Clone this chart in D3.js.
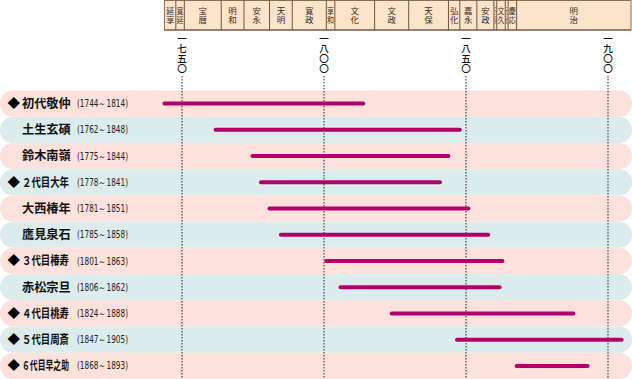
<!DOCTYPE html>
<html><head><meta charset="utf-8">
<script src="https://cdn.jsdelivr.net/npm/d3@7"></script>
<style>
html,body{margin:0;padding:0;background:#fff;}
svg{display:block;}
</style></head>
<body>
<svg id="chart" width="632" height="379"></svg>
<script>
// ---- data ----
const names = ["初代敬仲","土生玄碩","鈴木南嶺","２代目大年","大西椿年","鷹見泉石","３代目椿寿","赤松宗旦","４代目桃寿","５代目周斎","６代目早之助"];
const marked = [true,false,false,true,false,false,true,false,true,true,true];
const births = [1744,1762,1775,1778,1781,1785,1801,1806,1824,1847,1868];
const deaths = [1814,1848,1844,1841,1851,1858,1863,1862,1888,1905,1893];
const eraNames = ["延享","寛延","宝暦","明和","安永","天明","寛政","享和","文化","文政","天保","弘化","嘉永","安政","万延","文久","元治","慶応","明治"];
const eraStarts = [1744,1748,1751,1764,1772,1781,1789,1801,1804,1818,1830,1844,1848,1854,1860,1861,1864,1865,1868];
const eraEndLast = 1912;
const tickYears = [1750,1800,1850,1900];
const tickLabels = ["一七五〇","一八〇〇","一八五〇","一九〇〇"];

// ---- layout ----
const W = 632, H = 379;
const svg = d3.select("#chart");
const x = d3.scaleLinear().domain([1750,1900]).range([181.5,607.5]);
const y = d3.scaleBand().domain(names).range([90.5,379]).padding(0);
const cjk = "'Noto Sans CJK JP','Noto Sans CJK SC',sans-serif";

// row bands
svg.append("g").selectAll("rect").data(names).join("rect")
  .attr("x",0).attr("y",d=>y(d)).attr("width",W).attr("height",y.bandwidth())
  .attr("rx",13).attr("ry",13)
  .attr("fill",(d,i)=> i%2===0 ? "#fde1dd" : "#dcebec");

// header eras
const header = svg.append("g");
const hTop = 0.5, hBot = 30;
const eras = eraNames.map((n,i)=>({name:n, s:eraStarts[i], e: i<eraNames.length-1 ? eraStarts[i+1] : eraEndLast}));
const hx0 = x(eraStarts[0]), hx1 = 631;
header.append("rect").attr("x",hx0).attr("y",hTop).attr("width",hx1-hx0).attr("height",hBot-hTop)
  .attr("fill","#fce4cb").attr("stroke","#8c6d52").attr("stroke-width",1);
eras.forEach((d,i)=>{
  const a = x(d.s), b = Math.min(x(d.e), hx1);
  if(i>0) header.append("line").attr("x1",a).attr("x2",a).attr("y1",hTop).attr("y2",hBot)
      .attr("stroke","#6e5440").attr("stroke-width",1);
  const w = b - a, cx = (a+b)/2;
  const fs = 8.5;
  const sx = Math.max(0.2, Math.min(1, (w-1.5)/fs));
  header.append("g").attr("transform",`translate(${cx},0) scale(${sx},1)`)
    .append("text").attr("x",0).attr("y",6.6).attr("text-anchor","start")
    .attr("writing-mode","vertical-rl").attr("letter-spacing",0.5)
    .attr("font-family",cjk).attr("font-size",fs).attr("fill","#3a2a1e").text(d.name);
});
header.append("line").attr("x1",hx0).attr("x2",hx1).attr("y1",hBot).attr("y2",hBot)
  .attr("stroke","#6e5440").attr("stroke-width",1.2);

// grid axis
const axisG = svg.append("g").attr("transform","translate(0,76)")
  .call(d3.axisTop(x).tickValues(tickYears).tickSize(-(H-76)).tickFormat(""));
axisG.select(".domain").remove();
axisG.selectAll(".tick text").remove();
axisG.selectAll(".tick line").attr("stroke","#222").attr("stroke-width",1).attr("stroke-dasharray","1.5,1.5");
axisG.selectAll(".tick").append("text")
  .attr("x",0).attr("y",-42.5).attr("text-anchor","start")
  .attr("writing-mode","vertical-rl").attr("letter-spacing",0.4)
  .attr("font-family",cjk).attr("font-size",9.6).attr("font-weight",500).attr("fill","#111")
  .text((d,i)=>tickLabels[i]);

// life bars
svg.append("g").selectAll("line").data(names).join("line")
  .attr("x1",(d,i)=>x(births[i])).attr("x2",(d,i)=>x(deaths[i]))
  .attr("y1",d=>y(d)+y.bandwidth()/2).attr("y2",d=>y(d)+y.bandwidth()/2)
  .attr("stroke","#b2006b").attr("stroke-width",4).attr("stroke-linecap","round");

// labels
const lab = svg.append("g");
names.forEach((n,i)=>{
  const cy = y(n)+y.bandwidth()/2;
  if(marked[i]) lab.append("text").attr("x",7.5).attr("y",cy+4.3)
    .attr("font-family",cjk).attr("font-size",12.5).attr("fill","#000").text("◆");
  const len = [...n].length;
  const fsN = 12.2;
  const sc = len>4 ? 47/(len*fsN) : 1;
  lab.append("g").attr("transform",`translate(22,${cy+4.3}) scale(${sc},1)`)
    .append("text").attr("x",0).attr("y",0)
    .attr("font-family",cjk).attr("font-size",fsN).attr("font-weight",700).attr("fill","#111").text(n);
  lab.append("text").attr("x",77).attr("y",cy+3.6)
    .attr("font-family","'Liberation Sans Narrow','DejaVu Sans Condensed',sans-serif").attr("font-size",10)
    .attr("fill","#222").attr("textLength",51).attr("lengthAdjust","spacingAndGlyphs")
    .text(`(${births[i]}～${deaths[i]})`);
});
</script>
</body></html>
